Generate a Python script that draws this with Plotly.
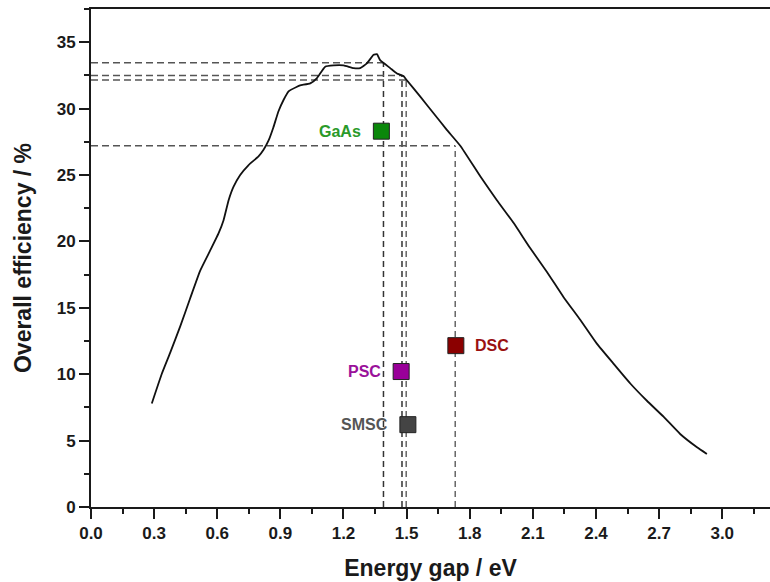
import plotly.graph_objects as go

gap_ev = [0.289, 0.337, 0.376, 0.424, 0.471, 0.519, 0.566, 0.606, 0.630, 0.654,
          0.677, 0.709, 0.749, 0.796, 0.820, 0.844, 0.867, 0.891, 0.915, 0.939,
          0.979, 0.994, 1.042, 1.074, 1.113, 1.153, 1.200, 1.248, 1.279, 1.311,
          1.343, 1.359, 1.374, 1.422, 1.454, 1.485, 1.500, 1.565, 1.628, 1.691,
          1.755, 1.850, 1.929, 2.008, 2.087, 2.167, 2.246, 2.325, 2.404, 2.483,
          2.563, 2.642, 2.721, 2.800, 2.880, 2.927]
efficiency = [7.8, 10.05, 11.6, 13.6, 15.7, 17.8, 19.3, 20.6, 21.6, 23.1,
              24.1, 25.0, 25.75, 26.4, 26.9, 27.6, 28.6, 29.8, 30.65, 31.3,
              31.65, 31.75, 31.9, 32.3, 33.15, 33.25, 33.25, 33.05, 33.05, 33.4,
              34.05, 34.1, 33.65, 33.05, 32.65, 32.45, 32.15, 30.9, 29.65, 28.4,
              27.2, 24.9, 23.1, 21.4, 19.5, 17.7, 15.8, 14.1, 12.3, 10.8,
              9.3, 8.0, 6.8, 5.5, 4.5, 4.0]

# Guide lines: band gap of each technology and its limiting efficiency
guide_gap = [1.39, 1.478, 1.498, 1.731]
guide_eff = [33.45, 32.5, 32.15, 27.2]
guide_color = ["#333333", "#333333", "#666666", "#666666"]

# Record cell efficiencies
cells = ["GaAs", "PSC", "SMSC", "DSC"]
cell_gap = [1.38, 1.474, 1.506, 1.734]
cell_eff = [28.3, 10.2, 6.2, 12.15]
cell_fill = ["#0a870a", "#990099", "#444444", "#8b0000"]
cell_text = ["#2a9a2a", "#9a119a", "#555555", "#9a1010"]
label_side = ["left", "left", "left", "right"]

FONT = "Liberation Sans, Arial, sans-serif"

fig = go.Figure()

for gx, gy, gc in zip(guide_gap, guide_eff, guide_color):
    fig.add_trace(go.Scatter(x=[0, gx], y=[gy, gy], mode="lines",
                             line=dict(color="#555555", width=1.5, dash="7px,4px"),
                             hoverinfo="skip", showlegend=False))
    fig.add_trace(go.Scatter(x=[gx, gx], y=[0, gy], mode="lines",
                             line=dict(color=gc, width=1.5, dash="6px,4px"),
                             hoverinfo="skip", showlegend=False))

fig.add_trace(go.Scatter(x=gap_ev, y=efficiency, mode="lines",
                         line=dict(color="#111111", width=1.8, shape="spline", smoothing=0.4),
                         showlegend=False))

fig.add_trace(go.Scatter(x=cell_gap, y=cell_eff, mode="markers",
                         marker=dict(symbol="square", size=16, color=cell_fill,
                                     line=dict(color="#222222", width=1)),
                         showlegend=False))

for name, gx, gy, tc, side in zip(cells, cell_gap, cell_eff, cell_text, label_side):
    fig.add_annotation(x=gx, y=gy, text=name, showarrow=False,
                       xanchor="right" if side == "left" else "left",
                       xshift=-18 if side == "left" else 17,
                       font=dict(family=FONT, size=16, color=tc, weight="bold"))

fig.update_layout(
    width=770, height=582,
    margin=dict(l=91, r=0, t=9, b=75),
    paper_bgcolor="white", plot_bgcolor="white",
    font=dict(family=FONT, color="#1a1a1a"),
)
fig.update_xaxes(
    range=[0, 3.227], tickmode="linear", tick0=0, dtick=0.3, tickformat=".1f",
    ticks="outside", ticklen=10, tickwidth=2, tickcolor="#1a1a1a",
    minor=dict(ticks="outside", ticklen=5, tickwidth=2, tickcolor="#1a1a1a", dtick=0.15),
    showline=True, linewidth=2, linecolor="#1a1a1a", mirror=True,
    showgrid=False, zeroline=False,
    tickfont=dict(family=FONT, size=17, weight="bold", color="#1a1a1a"),
    title=dict(text="Energy gap / eV", standoff=17,
               font=dict(family=FONT, size=23, weight="bold", color="#1a1a1a")),
)
fig.update_yaxes(
    range=[0, 37.5], tickmode="linear", tick0=0, dtick=5,
    ticks="outside", ticklen=10, tickwidth=2, tickcolor="#1a1a1a",
    minor=dict(ticks="outside", ticklen=5, tickwidth=2, tickcolor="#1a1a1a", dtick=2.5),
    showline=True, linewidth=2, linecolor="#1a1a1a", mirror=False,
    showgrid=False, zeroline=False,
    tickfont=dict(family=FONT, size=17, weight="bold", color="#1a1a1a"),
    title=dict(text="Overall efficiency / %", standoff=19,
               font=dict(family=FONT, size=23, weight="bold", color="#1a1a1a")),
)

fig.write_html("out.html")
